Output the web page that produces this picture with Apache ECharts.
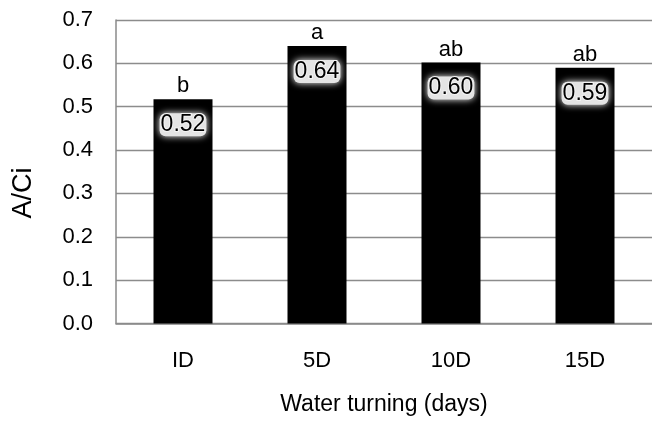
<!DOCTYPE html>
<html>
<head>
<meta charset="utf-8">
<script src="https://cdn.jsdelivr.net/npm/echarts@6/dist/echarts.min.js"></script>
<style>html,body{margin:0;padding:0;background:#fff}#c{width:652px;height:425px}</style>
</head>
<body>
<div id="c"></div>
<script>
var categories = ['ID', '5D', '10D', '15D'];
var values = [0.517, 0.640, 0.602, 0.590];
var letters = ['b', 'a', 'ab', 'ab'];
var yTicks = [0.0, 0.1, 0.2, 0.3, 0.4, 0.5, 0.6, 0.7];

var FONT = '"Liberation Sans", Arial, sans-serif';
var chart = echarts.init(document.getElementById('c'));
chart.setOption({
  animation: false,
  grid: { left: 116, top: 20, right: -10, bottom: 101.5 },
  xAxis: {
    type: 'category',
    data: categories,
    axisLine: { lineStyle: { color: '#8a8a8a', width: 1.5 } },
    axisTick: { show: false },
    axisLabel: { color: '#000', fontSize: 22, fontFamily: FONT, margin: 26 },
    name: 'Water turning (days)',
    nameLocation: 'middle',
    nameGap: 70,
    nameTextStyle: { color: '#000', fontSize: 23, fontFamily: FONT }
  },
  yAxis: {
    type: 'value',
    min: yTicks[0],
    max: yTicks[yTicks.length - 1],
    interval: 0.1,
    axisLine: { show: true, lineStyle: { color: '#8a8a8a', width: 1.5 } },
    axisTick: { show: false },
    splitLine: { lineStyle: { color: '#8c8c8c', width: 1.3 } },
    axisLabel: { color: '#000', fontSize: 22, fontFamily: FONT, margin: 23,
      formatter: function (v) { return v.toFixed(1); } }
  },
  graphic: [{
    type: 'text',
    x: 24, y: 193,
    rotation: Math.PI / 2,
    style: { text: 'A/Ci', fill: '#000', font: '27px ' + FONT, textAlign: 'center', textVerticalAlign: 'middle' }
  }],
  series: [{
    type: 'bar',
    data: values,
    barWidth: 59,
    itemStyle: { color: '#000' },
    label: {
      show: true,
      position: 'insideTop',
      distance: 14,
      color: '#000',
      fontSize: 23,
      fontFamily: FONT,
      formatter: function (p) { return p.value.toFixed(2); },
      backgroundColor: '#e4e4e4',
      borderRadius: 6,
      padding: [0, 1, 0, 1],
      shadowColor: '#ffffff',
      shadowBlur: 7,
      textBorderColor: '#f4f4f4',
      textBorderWidth: 2
    },
    z: 2
  }, {
    type: 'bar',
    data: values,
    barWidth: 59,
    barGap: '-100%',
    itemStyle: { color: 'rgba(0,0,0,0)' },
    label: {
      show: true,
      position: 'top',
      distance: 2,
      color: '#000',
      fontSize: 22,
      fontFamily: FONT,
      formatter: function (p) { return letters[p.dataIndex]; }
    },
    z: 3
  }]
});
</script>
</body>
</html>
